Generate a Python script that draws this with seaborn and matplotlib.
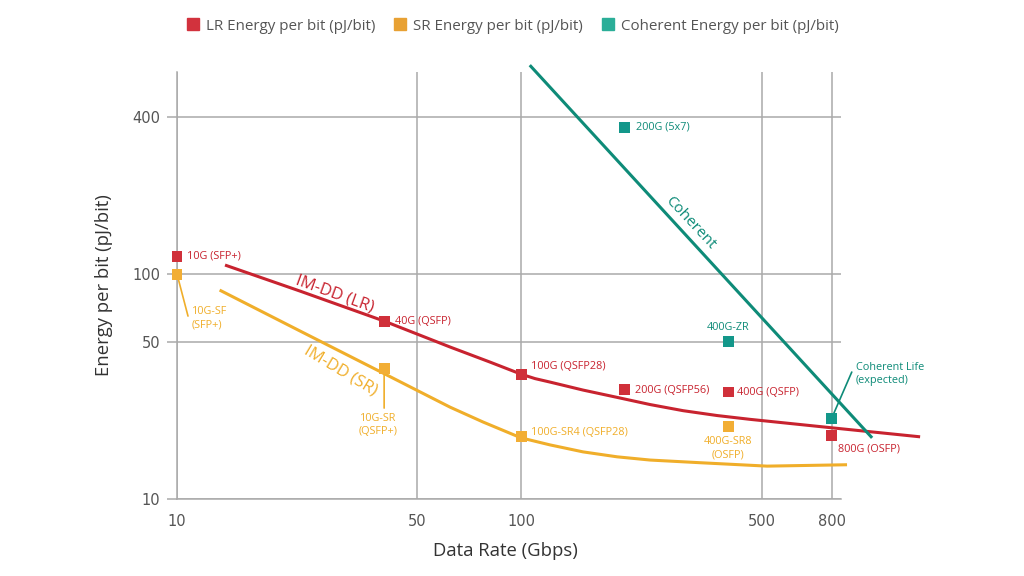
import numpy as np
import pandas as pd
import matplotlib
matplotlib.use("Agg")
import matplotlib.pyplot as plt
import seaborn as sns
from matplotlib.lines import Line2D
from matplotlib.ticker import NullLocator

# ---------------- data ----------------
lr_curve_rate = [13.79, 22.79, 40, 62.17, 81.3, 100, 109.8, 121.4, 151.4, 190.2, 237.1, 295.8,
                 371.4, 463.2, 807, 1445]
lr_curve_energy = [108.3, 84.0, 61.8, 47.4, 40.6, 35.9, 34.3, 33.1, 30.5, 28.3, 26.3, 24.7,
                   23.5, 22.6, 20.7, 18.9]

sr_curve_rate = [13.3, 22.8, 39.7, 62.2, 77.5, 100, 121.4, 151.4, 190.2, 237.1, 331, 519, 886]
sr_curve_energy = [84.9, 55.8, 36.3, 25.6, 22.0, 18.7, 17.4, 16.2, 15.4, 14.9, 14.5, 14.0, 14.2]

coh_curve_rate = [106, 1048]
coh_curve_energy = [632, 18.7]

lr_rate = [10, 40, 100, 200, 400, 800]
lr_energy = [117, 61.8, 35.9, 30.8, 29.9, 19.1]
lr_labels = ["10G (SFP+)", "40G (QSFP)", "100G (QSFP28)", "200G (QSFP56)", "400G (QSFP)", "800G (OSFP)"]

sr_rate = [10, 40, 100, 400]
sr_energy = [100, 38.2, 18.9, 21.1]
sr_labels = ["10G-SF\n(SFP+)", "10G-SR\n(QSFP+)", "100G-SR4 (QSFP28)", "400G-SR8\n(OSFP)"]

coh_rate = [200, 400, 800]
coh_energy = [365, 50, 22.9]
coh_labels = ["200G (5x7)", "400G-ZR", "Coherent Life\n(expected)"]

x_ticks = [10, 50, 100, 500, 800]
y_ticks = [10, 50, 100, 400]

series_names = ["LR Energy per bit (pJ/bit)", "SR Energy per bit (pJ/bit)", "Coherent Energy per bit (pJ/bit)"]

# ---------------- style ----------------
RED, ORANGE, TEAL = "#C8232F", "#F0AE2A", "#0E8B78"
RED_M, ORANGE_M, TEAL_M = "#D0303A", "#F2AE35", "#13978A"
LEG_COLORS = ["#D2323D", "#E8A133", "#2BAE98"]
GRID = "#AAAAAA"

sns.set_theme(style="white")
plt.rcParams["font.family"] = ["Open Sans", "DejaVu Sans"]

fig = plt.figure(figsize=(10.24, 5.76), dpi=100)
ax = fig.add_axes([177 / 1024, 1 - 499 / 576, (841 - 177) / 1024, (499 - 72) / 576])

K = 261 / 225


def fwd(y):
    u = np.log10(np.clip(np.asarray(y, dtype=float), 1e-12, None))
    return np.where(u <= 2, u, 2 + (u - 2) * K)


def inv(t):
    t = np.asarray(t, dtype=float)
    return 10 ** np.where(t <= 2, t, 2 + (t - 2) / K)


ax.set_xscale("log")
ax.set_yscale("function", functions=(fwd, inv))
ax.set_xlim(10, 851)
ax.set_ylim(10, 595)

curves = pd.concat([
    pd.DataFrame({"rate": lr_curve_rate, "energy": lr_curve_energy, "series": "LR"}),
    pd.DataFrame({"rate": sr_curve_rate, "energy": sr_curve_energy, "series": "SR"}),
    pd.DataFrame({"rate": coh_curve_rate, "energy": coh_curve_energy, "series": "COH"}),
], ignore_index=True)

sns.lineplot(data=curves, x="rate", y="energy", hue="series",
             palette={"LR": RED, "SR": ORANGE, "COH": TEAL},
             sort=False, estimator=None, legend=False, linewidth=2.2, ax=ax)
for ln in ax.lines:
    ln.set_clip_on(False)
    ln.set_zorder(3)
    ln.set_solid_capstyle("butt")
    ln.set_solid_joinstyle("round")

points = pd.concat([
    pd.DataFrame({"rate": lr_rate, "energy": lr_energy, "series": "LR"}),
    pd.DataFrame({"rate": sr_rate, "energy": sr_energy, "series": "SR"}),
    pd.DataFrame({"rate": coh_rate, "energy": coh_energy, "series": "COH"}),
], ignore_index=True)

sns.scatterplot(data=points, x="rate", y="energy", hue="series",
                palette={"LR": RED_M, "SR": ORANGE_M, "COH": TEAL_M},
                marker="s", s=62, linewidth=0, legend=False, ax=ax, zorder=5, clip_on=False)

# ---------------- grid / axes ----------------
ax.set_xticks(x_ticks)
ax.set_xticklabels([str(v) for v in x_ticks], family="DejaVu Sans")
ax.xaxis.set_minor_locator(NullLocator())
ax.set_yticks(y_ticks)
ax.set_yticklabels([str(v) for v in y_ticks], family="DejaVu Sans")
ax.yaxis.set_minor_locator(NullLocator())
ax.grid(True, color=GRID, linewidth=1.1)
ax.set_axisbelow(True)
for s in ["top", "right"]:
    ax.spines[s].set_visible(False)
for s in ["left", "bottom"]:
    ax.spines[s].set_color(GRID)
    ax.spines[s].set_linewidth(1.1)
ax.tick_params(axis="y", left=True, length=7, width=1.1, color=GRID, labelsize=10.5,
               labelcolor="#555555", pad=5)
ax.tick_params(axis="x", bottom=False, labelsize=10.5, labelcolor="#555555", pad=5)
ax.set_xlabel("Data Rate (Gbps)", fontsize=13.3, color="#333333")
ax.set_ylabel("Energy per bit (pJ/bit)", fontsize=13.3, color="#333333")
ax.xaxis.set_label_coords((505 - 177) / 664, (499 - 542) / 427)
ax.yaxis.set_label_coords((113 - 177) / 664, 0.5)

# ---------------- point labels ----------------
FS = 7.8
lr_offsets = [(10, 0, "left", "center"), (11, 0, "left", "center"), (10, 8, "left", "center"),
              (10, -1, "left", "center"), (9, 0, "left", "center"), (6, -13, "left", "center")]
for xv, yv, t, (dx, dy, ha, va) in zip(lr_rate, lr_energy, lr_labels, lr_offsets):
    ax.annotate(t, (xv, yv), xytext=(dx, dy), textcoords="offset pixels",
                ha=ha, va=va, fontsize=FS, color=RED, zorder=6)

sr_offsets = [(15, -44, "left", "center"), (-6, -57, "center", "center"),
              (10, 4, "left", "center"), (0, -22, "center", "center")]
for xv, yv, t, (dx, dy, ha, va) in zip(sr_rate, sr_energy, sr_labels, sr_offsets):
    ax.annotate(t, (xv, yv), xytext=(dx, dy), textcoords="offset pixels",
                ha=ha, va=va, fontsize=FS, color=ORANGE, zorder=6, linespacing=1.35,
                multialignment="left" if ha == "left" else "center")

coh_offsets = [(11, 0, "left", "center"), (0, 14, "center", "center"), (24, 44, "left", "center")]
for xv, yv, t, (dx, dy, ha, va) in zip(coh_rate, coh_energy, coh_labels, coh_offsets):
    ax.annotate(t, (xv, yv), xytext=(dx, dy), textcoords="offset pixels",
                ha=ha, va=va, fontsize=FS, color=TEAL, zorder=6, linespacing=1.35,
                annotation_clip=False)

# leader lines
leaders = [(sr_rate[0], sr_energy[0], 11, -42, ORANGE),
           (sr_rate[1], sr_energy[1], 0, -40, ORANGE),
           (coh_rate[2], coh_energy[2], 20, 46, TEAL)]
for xv, yv, dx, dy, c in leaders:
    ax.annotate("", (xv, yv), xytext=(dx, dy), textcoords="offset pixels",
                arrowprops=dict(arrowstyle="-", color=c, lw=1.2, shrinkA=0, shrinkB=0),
                zorder=4, annotation_clip=False)

# curve labels
ax.text(28.8, 81.5, "IM-DD (LR)", color=RED, fontsize=12, rotation=-20,
        ha="center", va="center", rotation_mode="anchor")
ax.text(29.8, 37.4, "IM-DD (SR)", color=ORANGE, fontsize=12, rotation=-31,
        ha="center", va="center", rotation_mode="anchor")
ax.text(311, 157, "Coherent", color=TEAL, fontsize=11, rotation=-47,
        ha="center", va="center", rotation_mode="anchor")

# ---------------- legend ----------------
handles = [Line2D([], [], marker="s", linestyle="none", markersize=9, color=c) for c in LEG_COLORS]
fig.legend(handles, series_names, loc="center", bbox_to_anchor=(0.5, 1 - 26 / 576), ncol=3,
           frameon=False, fontsize=10.9, handlelength=1.0, handletextpad=0.35, columnspacing=1.15,
           labelcolor="#555555")

fig.savefig("out.png", dpi=100)
